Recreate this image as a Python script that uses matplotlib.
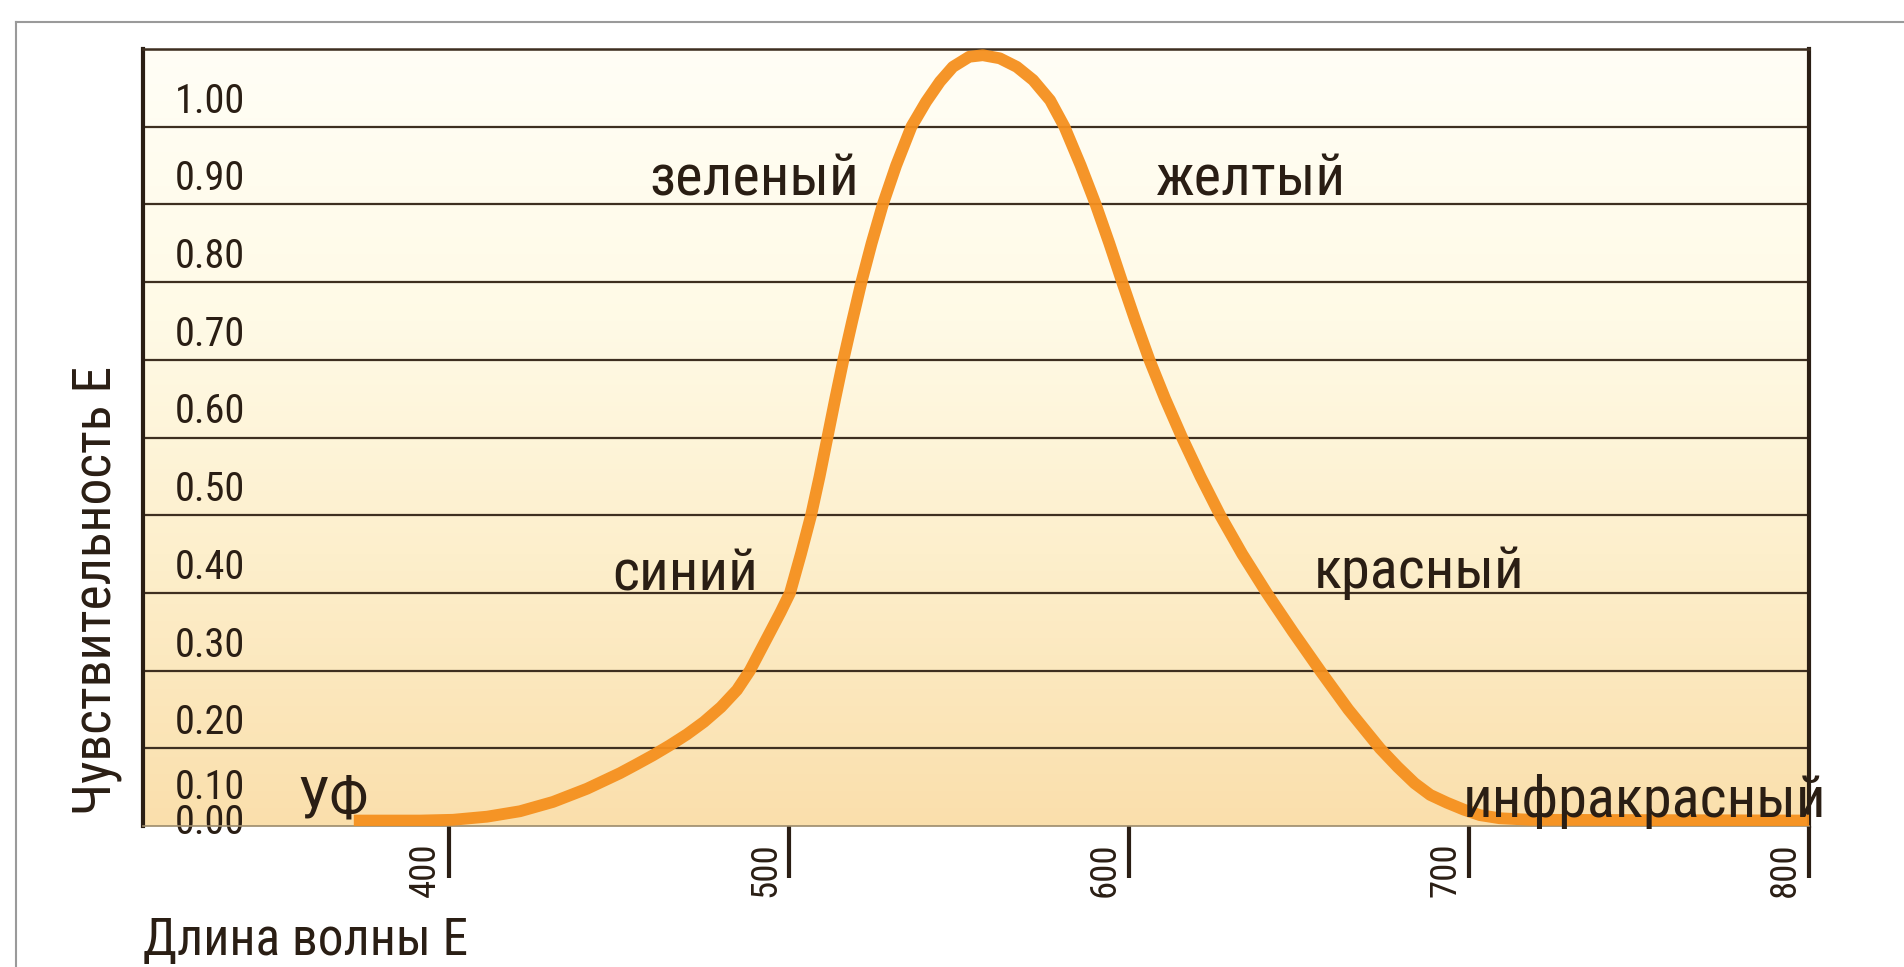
import numpy as np
import matplotlib
matplotlib.use("Agg")
import matplotlib.pyplot as plt
from matplotlib import transforms as mtransforms
from matplotlib.lines import Line2D

# ---------------- data ----------------
wavelength = [372, 391.5, 401.2, 411.2, 420.9, 430.6, 440.6, 450.3, 455, 460,
              465, 470, 475, 480, 484.7, 488.5, 491.5, 494.5, 497.5, 500.3,
              503.5, 506.5, 509, 511.3, 513.6, 516, 518.6, 521.3, 524.3, 527.6,
              531.5, 536, 540.3, 544.4, 548.2, 553, 557, 562, 567, 571.8, 576.8,
              581, 585.8, 590.2, 594.2, 598, 601.9, 606, 610.6, 615.6, 621, 626.8,
              633.3, 640.5, 648.2, 656.2, 664.5, 673.8, 679, 684, 688.6, 693.5,
              698.5, 703.2, 709, 718, 800]
sensitivity = [0.007, 0.007, 0.008, 0.012, 0.019, 0.031, 0.048, 0.068, 0.079, 0.091,
               0.104, 0.118, 0.134, 0.153, 0.175, 0.20, 0.225, 0.25, 0.275, 0.30,
               0.35, 0.40, 0.45, 0.50, 0.55, 0.60, 0.65, 0.70, 0.75, 0.80,
               0.85, 0.90, 0.932, 0.958, 0.977, 0.99, 0.992, 0.988, 0.977, 0.96, 0.934,
               0.90, 0.85, 0.80, 0.75, 0.70, 0.65, 0.60, 0.55, 0.50, 0.45, 0.40,
               0.35, 0.30, 0.25, 0.20, 0.15, 0.10, 0.076, 0.055, 0.04, 0.03,
               0.021, 0.014, 0.010, 0.008, 0.007]

x_ticks = [400, 500, 600, 700, 800]
x_tick_labels = ["400", "500", "600", "700", "800"]
y_grid = [0.1, 0.2, 0.3, 0.4, 0.5, 0.6, 0.7, 0.8, 0.9, 1.0]
y_tick_values = [1.00, 0.90, 0.80, 0.70, 0.60, 0.50, 0.40, 0.30, 0.20, 0.10, 0.00]
y_tick_labels = ["1.00", "0.90", "0.80", "0.70", "0.60", "0.50", "0.40",
                 "0.30", "0.20", "0.10", "0.00"]
region_labels = ["УФ", "синий", "зеленый", "желтый", "красный", "инфракрасный"]
x_label = "Длина волны Е"
y_label = "Чувствительность Е"

# ---------------- layout / style ----------------
W, H = 1904, 967
FONT = ["Roboto Condensed", "IBM Plex Sans Condensed", "DejaVu Sans"]
plt.rcParams["font.family"] = FONT
DARK = "#2a1e14"
GRID = "#3e2f20"
ORANGE = "#F5901E"

region_pos = [(355.5, 0.011), (448.0, 0.303), (458.8, 0.812),
              (607.9, 0.812), (654.4, 0.306), (698.2, 0.011)]


def ylabel_pos(v):
    if v >= 0.15:
        return v - 0.062
    if v > 0.05:
        return 0.055
    return 0.010


fig = plt.figure(figsize=(W / 100, H / 100), dpi=100)
fig.patch.set_facecolor("white")

L, R, T, B = 143, 1809, 49, 826
ax = fig.add_axes([L / W, 1 - B / H, (R - L) / W, (B - T) / H])
ax.set_xlim(310, 800)
ax.set_ylim(0, 1)

# background gradient
stops_y = np.array([0.0, 0.35, 0.65, 1.0])  # 0 = top, 1 = bottom
stops_c = np.array([[255, 254, 246], [255, 250, 230], [253, 239, 204], [250, 223, 172]]) / 255
yy = np.linspace(0, 1, 300)
grad = np.stack([np.interp(yy, stops_y, stops_c[:, k]) for k in range(3)], axis=1)
grad = grad[:, None, :]
ax.imshow(grad, extent=[310, 800, 0, 1], aspect="auto", origin="upper", zorder=0,
          interpolation="bilinear")

# grid lines
ax.set_yticks(y_grid)
ax.yaxis.grid(True, which="major", color=GRID, lw=1.6, zorder=1)
ax.set_axisbelow(True)
ax.tick_params(axis="y", which="major", length=0, labelleft=False)

# y tick labels (inside, above gridlines)
ax.set_yticks([ylabel_pos(v) for v in y_tick_values], labels=y_tick_labels, minor=True)
ax.tick_params(axis="y", which="minor", length=0, pad=-23, labelsize=29,
               labelcolor=DARK)
for t in ax.get_yticklabels(minor=True):
    t.set_ha("left")
    t.set_family(FONT)

# x ticks
ax.set_xticks(x_ticks)
ax.tick_params(axis="x", which="major", length=37.5, width=3, direction="out",
               color=DARK, labelbottom=False)
off = mtransforms.ScaledTranslation(-24 / 100, -44 / 100, fig.dpi_scale_trans)
trans = mtransforms.blended_transform_factory(ax.transData, ax.transAxes) + off
for xv, lab in zip(x_ticks, x_tick_labels):
    ax.text(xv, 0, lab, transform=trans, rotation=90, ha="center", va="center",
            fontsize=26.5, color=DARK, family=FONT)

# spines
for s in ["left", "right"]:
    ax.spines[s].set_linewidth(3)
    ax.spines[s].set_color(DARK)
ax.spines["top"].set_linewidth(1.8)
ax.spines["top"].set_color(GRID)
ax.spines["bottom"].set_linewidth(1.2)
ax.spines["bottom"].set_color("#9c8b6c")

# curve
ax.plot(wavelength, sensitivity, color=ORANGE, lw=8.5, solid_capstyle="butt",
        solid_joinstyle="round", zorder=3, alpha=0.95)

# region annotations
for lab, (xp, yp) in zip(region_labels, region_pos):
    ax.text(xp, yp, lab, fontsize=42, color=DARK, ha="left", va="baseline",
            family=FONT, zorder=4, clip_on=False)

# axis titles
fig.text(97 / W, 1 - 590 / H, y_label, rotation=90, ha="center", va="center",
         fontsize=38.5, color=DARK, family=FONT)
fig.text(L / W, 1 - 955 / H, x_label, ha="left", va="baseline",
         fontsize=37, color=DARK, family=FONT)

# outer frame
fig.add_artist(Line2D([16 / W, 1.0], [1 - 22 / H, 1 - 22 / H], transform=fig.transFigure,
                      color="#9a9a9a", lw=1.5))
fig.add_artist(Line2D([16 / W, 16 / W], [0, 1 - 22 / H], transform=fig.transFigure,
                      color="#9a9a9a", lw=1.5))

fig.savefig("out.png", dpi=100, facecolor="white")
